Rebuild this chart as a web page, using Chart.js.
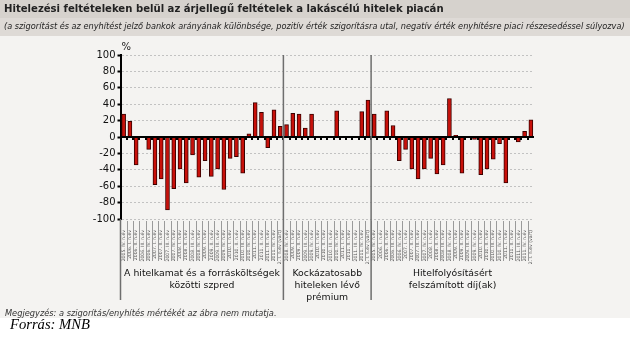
<!DOCTYPE html>
<html>
<head>
<meta charset="utf-8">
<script src="https://cdn.jsdelivr.net/npm/chart.js@4.4.1/dist/chart.umd.min.js"></script>
<style>
html, body { margin: 0; padding: 0; background: #fff; }
canvas { display: block; }
</style>
</head>
<body>
<canvas id="c" width="630" height="344"></canvas>
<script>
var quarterLabels = [
    "2005. IV. n.év",
    "2006. I. n.év", "2006. II. n.év", "2006. III. n.év", "2006. IV. n.év",
    "2007. I. n.év", "2007. II. n.év", "2007. III. n.év", "2007. IV. n.év",
    "2008. I. n.év", "2008. II. n.év", "2008. III. n.év", "2008. IV. n.év",
    "2009. I. n.év", "2009. II. n.év", "2009. III. n.év", "2009. IV. n.év",
    "2010. I. n.év", "2010. II. n.év", "2010. III. n.év", "2010. IV. n.év",
    "2011. I. n.év", "2011. II. n.év", "2011. III. n.év", "2011. IV. n.év",
    "2012. I. n.év (várt)"
];
var spreadLabels = quarterLabels;
var premiumLabels = quarterLabels.slice(12);
var feeLabels = quarterLabels;

var spreadValues = [28, 19, -34, 0, -15, -58, -51, -89, -63, -39, -56, -22, -49,
    -29, -48, -39, -64, -26, -24, -44, 4, 42, 30, -13, 33, 13];
var premiumValues = [15, 29, 28, 11, 28, 0, 0, 0, 32, 0, 0, 0, 31, 45];
var feeValues = [28, 0, 32, 14, -29, -15, -39, -51, -39, -26, -45, -34, 47,
    2, -44, 0, -3, -46, -39, -27, -8, -56, 0, -6, 7, 21];

var groupNames = [
    ["A hitelkamat és a forrásköltségek", "közötti szpred"],
    ["Kockázatosabb", "hiteleken lévő", "prémium"],
    ["Hitelfolyósításért", "felszámított díj(ak)"]
];

var TITLE = "Hitelezési feltételeken belül az árjellegű feltételek a lakáscélú hitelek piacán";
var SUBTITLE = "(a szigorítást és az enyhítést jelző bankok arányának különbsége, pozitív érték szigorításra utal, negatív érték enyhítésre piaci részesedéssel súlyozva)";
var NOTE = "Megjegyzés: a szigorítás/enyhítés mértékét az ábra nem mutatja.";
var SOURCE = "Forrás: MNB";

var labels = spreadLabels.concat(premiumLabels, feeLabels);
var values = spreadValues.concat(premiumValues, feeValues);
var groupSizes = [spreadLabels.length, premiumLabels.length, feeLabels.length];

function fitFont(ctx, text, style, family, width) {
    ctx.font = style + " 10px " + family;
    var w = ctx.measureText(text).width;
    return style + " " + (10 * width / w).toFixed(2) + "px " + family;
}

// boundary pixel between category i-1 and i
function edgeX(x, i) {
    var n = x.ticks.length;
    var w = (x.right - x.left) / n;
    return x.left + i * w;
}

var decor = {
    id: "decor",
    beforeDraw: function (chart) {
        var ctx = chart.ctx;
        ctx.save();
        ctx.fillStyle = "#ffffff";
        ctx.fillRect(0, 0, 630, 344);
        ctx.fillStyle = "#d6d2cd";
        ctx.fillRect(0, 0, 630, 18);
        ctx.fillStyle = "#dedad6";
        ctx.fillRect(0, 18, 630, 18);
        ctx.fillStyle = "#f4f3f1";
        ctx.fillRect(0, 36, 630, 282);

        ctx.fillStyle = "#222";
        ctx.textBaseline = "middle";
        ctx.textAlign = "left";
        ctx.font = fitFont(ctx, TITLE, "bold", "'DejaVu Sans'", 440);
        ctx.fillText(TITLE, 4, 9);
        ctx.font = fitFont(ctx, SUBTITLE, "italic", "'DejaVu Sans'", 621);
        ctx.fillText(SUBTITLE, 4, 27);
        ctx.fillStyle = "#333";
        ctx.font = fitFont(ctx, NOTE, "italic", "'DejaVu Sans'", 272);
        ctx.fillText(NOTE, 5, 314);
        ctx.fillStyle = "#000";
        ctx.font = fitFont(ctx, SOURCE, "italic", "'Liberation Serif'", 80);
        ctx.fillText(SOURCE, 10, 325);
        ctx.restore();
    },
    afterDatasetsDraw: function (chart) {
        var ctx = chart.ctx;
        var x = chart.scales.x, y = chart.scales.y;
        var y0 = y.getPixelForValue(0);
        ctx.save();
        ctx.strokeStyle = "#000";
        ctx.lineWidth = 2;
        ctx.beginPath();
        ctx.moveTo(x.left, y0);
        ctx.lineTo(x.right, y0);
        ctx.stroke();
        ctx.fillStyle = "#000";
        for (var i = 1; i < x.ticks.length; i++) {
            ctx.fillRect(Math.round(edgeX(x, i)) - 1, y0, 2, 3);
        }
        ctx.restore();
    },
    afterDraw: function (chart) {
        var ctx = chart.ctx;
        var x = chart.scales.x, y = chart.scales.y;
        var top = y.top, bot = y.bottom;
        ctx.save();
        // separators between x labels
        ctx.strokeStyle = "#9a9a9a";
        ctx.lineWidth = 1;
        for (var i = 1; i < x.ticks.length; i++) {
            var px = Math.round(edgeX(x, i)) + 0.5;
            ctx.beginPath();
            ctx.moveTo(px, bot + 2);
            ctx.lineTo(px, bot + 42);
            ctx.stroke();
        }
        // group dividers
        ctx.strokeStyle = "#6e6e6e";
        ctx.lineWidth = 1.5;
        var starts = [0];
        for (var g = 0; g < groupSizes.length; g++) starts.push(starts[g] + groupSizes[g]);
        ctx.beginPath();
        ctx.moveTo(x.left, bot);
        ctx.lineTo(x.left, 300);
        for (var k = 1; k < groupSizes.length; k++) {
            var dx = edgeX(x, starts[k]);
            ctx.moveTo(dx, top);
            ctx.lineTo(dx, 300);
        }
        ctx.stroke();
        // group names
        ctx.fillStyle = "#111";
        ctx.textAlign = "center";
        ctx.textBaseline = "middle";
        ctx.font = fitFont(ctx, groupNames[0][0], "", "'DejaVu Sans'", 156);
        for (var m = 0; m < groupNames.length; m++) {
            var cx = (edgeX(x, starts[m]) + edgeX(x, starts[m + 1])) / 2;
            for (var l = 0; l < groupNames[m].length; l++) {
                ctx.fillText(groupNames[m][l], cx, 274 + l * 12);
            }
        }
        // unit
        ctx.textAlign = "left";
        ctx.font = "10px 'DejaVu Sans'";
        ctx.fillStyle = "#222";
        ctx.fillText("%", x.left + 1, 47);
        ctx.restore();
    }
};

new Chart(document.getElementById("c"), {
    type: "bar",
    data: {
        labels: labels,
        datasets: [{
            data: values,
            backgroundColor: "#c8100a",
            borderColor: "#3a0000",
            borderWidth: 1,
            barThickness: 4,
            categoryPercentage: 1
        }]
    },
    options: {
        responsive: false,
        animation: false,
        devicePixelRatio: 1,
        layout: { padding: { left: 0, right: 96, top: 55, bottom: 80 } },
        plugins: { legend: { display: false }, tooltip: { enabled: false } },
        scales: {
            x: {
                afterFit: function (s) { s.height = 45; },
                grid: { display: false },
                border: { display: false },
                ticks: {
                    autoSkip: false,
                    maxRotation: 90,
                    minRotation: 90,
                    padding: 3,
                    color: "#555",
                    font: { family: "'DejaVu Sans'", size: 4.6 }
                }
            },
            y: {
                min: -100,
                max: 100,
                afterFit: function (s) { s.width = 120.5; },
                ticks: {
                    stepSize: 20,
                    padding: 2,
                    color: "#111",
                    font: { family: "'DejaVu Sans'", size: 10 }
                },
                grid: {
                    color: "#c2c2c2",
                    lineWidth: 1,
                    tickColor: "#000",
                    tickLength: 3,
                    tickWidth: 2
                },
                border: { display: true, color: "#000", width: 2, dash: [2, 2] }
            }
        }
    },
    plugins: [decor]
});
</script>
</body>
</html>
